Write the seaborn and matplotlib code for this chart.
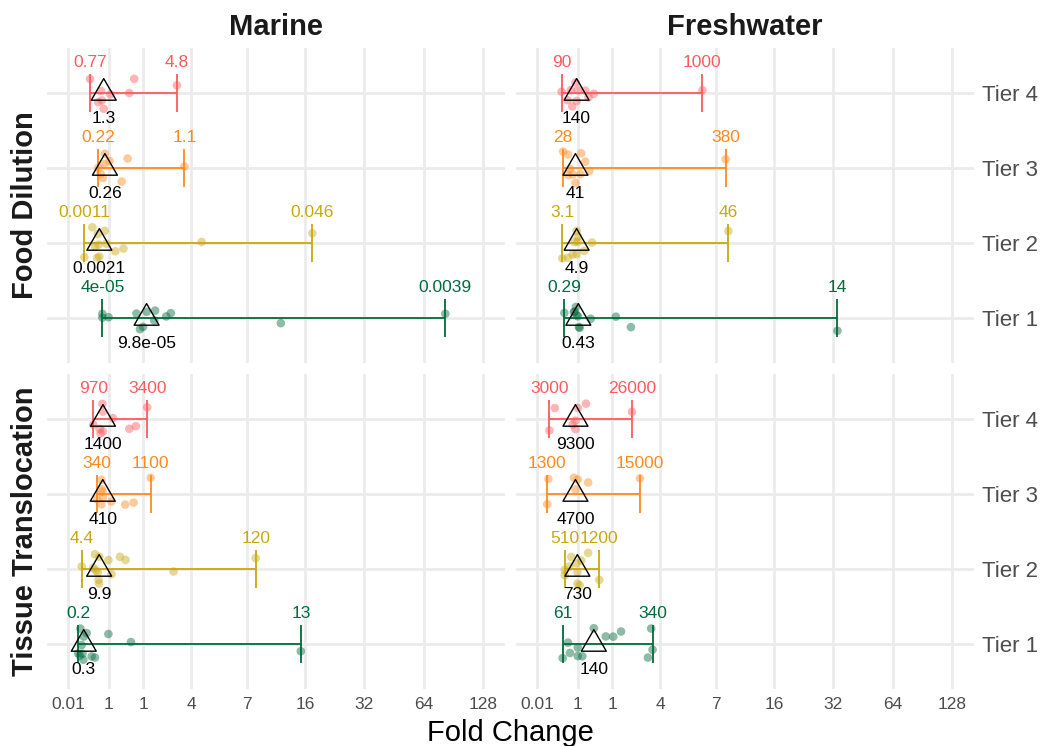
import numpy as np
import pandas as pd
import matplotlib
matplotlib.use("Agg")
import matplotlib.pyplot as plt
from matplotlib.path import Path
import seaborn as sns

sns.set_style("white")
plt.rcParams["font.family"] = ["Liberation Sans", "DejaVu Sans"]

# ---------------- data ----------------
tiers = ["Tier 4", "Tier 3", "Tier 2", "Tier 1"]
tier_colors = ["#FF5A5F", "#FF8A1E", "#C9A80E", "#006B3C"]

x_breaks = [0.01, 1, 2, 4, 8, 16, 32, 64, 128]
x_tick_labels = ["0.01", "1", "1", "4", "7", "16", "32", "64", "128"]

habitats = ["Marine", "Freshwater"]
endpoints = ["Food Dilution", "Tissue Translocation"]

# fold change of every point (Tier 4 .. Tier 1)
mar_food_t4 = [0.53, 0.73, 0.80, 0.82, 0.87, 1.04, 1.57, 1.72, 3.31]
mar_food_t3 = [0.73, 0.79, 0.85, 0.88, 0.90, 1.02, 1.35, 1.52, 3.66]
mar_food_t2 = [0.393, 0.585, 0.65, 0.705, 0.72, 0.74, 0.76, 0.895, 0.94, 1.175, 1.40, 4.58, 17.4]
mar_food_t1 = [0.835, 0.835, 0.994, 1.79, 1.90, 2.0, 2.12, 2.39, 2.42, 2.85, 3.04, 12.0, 82.6]

fw_food_t4 = [0.592, 0.74, 0.82, 0.86, 0.94, 0.97, 1.0, 1.2, 1.29, 1.44, 6.8]
fw_food_t3 = [0.63, 0.75, 0.75, 0.80, 0.87, 0.94, 1.07, 1.09, 1.20, 1.31, 9.0]
fw_food_t2 = [0.61, 0.75, 0.87, 0.92, 0.97, 0.97, 1.0, 1.0, 1.17, 1.39, 9.3]
fw_food_t1 = [0.66, 0.9, 0.92, 0.95, 0.97, 1.0, 1.03, 1.05, 1.35, 2.13, 2.68, 33.6]

mar_tiss_t4 = [0.61, 0.77, 0.79, 0.835, 0.85, 0.85, 1.11, 1.57, 1.77, 2.14]
mar_tiss_t3 = [0.70, 0.815, 0.815, 0.815, 0.84, 0.85, 1.07, 1.45, 1.70, 2.26]
mar_tiss_t2 = [0.33, 0.61, 0.65, 0.67, 0.72, 0.74, 0.75, 0.76, 0.99, 1.07, 1.30, 1.46, 3.16, 8.9]
mar_tiss_t1 = [0.25, 0.29, 0.30, 0.33, 0.35, 0.37, 0.38, 0.45, 0.57, 0.65, 0.99, 1.62, 15.2]

fw_tiss_t4 = [0.30, 0.43, 0.87, 0.94, 0.94, 1.0, 1.22, 2.72]
fw_tiss_t3 = [0.25, 0.275, 0.90, 0.94, 1.0, 1.28, 3.05]
fw_tiss_t2 = [0.67, 0.67, 0.78, 0.835, 0.97, 0.99, 0.99, 1.05, 1.09, 1.28, 1.60]
fw_tiss_t1 = [0.62, 0.75, 0.80, 1.0, 1.0, 1.12, 1.44, 1.80, 2.04, 2.31, 3.40, 3.55, 3.62]

# (min, median, max) annotations in original units (Tier 4 .. Tier 1)
mar_food_labels = [("0.77", "1.3", "4.8"), ("0.22", "0.26", "1.1"),
                   ("0.0011", "0.0021", "0.046"), ("4e-05", "9.8e-05", "0.0039")]
fw_food_labels = [("90", "140", "1000"), ("28", "41", "380"),
                  ("3.1", "4.9", "46"), ("0.29", "0.43", "14")]
mar_tiss_labels = [("970", "1400", "3400"), ("340", "410", "1100"),
                   ("4.4", "9.9", "120"), ("0.2", "0.3", "13")]
fw_tiss_labels = [("3000", "9300", "26000"), ("1300", "4700", "15000"),
                  ("510", "730", "1200"), ("61", "140", "340")]

panel_points = {
    ("Food Dilution", "Marine"): [mar_food_t4, mar_food_t3, mar_food_t2, mar_food_t1],
    ("Food Dilution", "Freshwater"): [fw_food_t4, fw_food_t3, fw_food_t2, fw_food_t1],
    ("Tissue Translocation", "Marine"): [mar_tiss_t4, mar_tiss_t3, mar_tiss_t2, mar_tiss_t1],
    ("Tissue Translocation", "Freshwater"): [fw_tiss_t4, fw_tiss_t3, fw_tiss_t2, fw_tiss_t1],
}
panel_labels = {
    ("Food Dilution", "Marine"): mar_food_labels,
    ("Food Dilution", "Freshwater"): fw_food_labels,
    ("Tissue Translocation", "Marine"): mar_tiss_labels,
    ("Tissue Translocation", "Freshwater"): fw_tiss_labels,
}

rows = []
for (ep, hab), groups in panel_points.items():
    for tier, vals in zip(tiers, groups):
        for v in vals:
            rows.append({"endpoint": ep, "habitat": hab, "tier": tier, "fc": v})
df = pd.DataFrame(rows)

# ---------------- plot ----------------
np.random.seed(7)
W, H = 1042, 746
fig = plt.figure(figsize=(W / 100, H / 100), dpi=100)
fig.patch.set_facecolor("white")


def rect(l, t, r, b):
    return [l / W, 1 - b / H, (r - l) / W, (b - t) / H]


boxes = {
    ("Food Dilution", "Marine"): rect(47, 48, 505, 363),
    ("Food Dilution", "Freshwater"): rect(516, 48, 974, 363),
    ("Tissue Translocation", "Marine"): rect(47, 374, 505, 689),
    ("Tissue Translocation", "Freshwater"): rect(516, 374, 974, 689),
}


def fwd(x):
    return np.arcsinh(np.asarray(x, dtype=float) / 2) / np.log(2)


def inv(y):
    return 2 * np.sinh(np.asarray(y, dtype=float) * np.log(2))


# open triangle centred on its centroid (like ggplot shape 2)
tri = Path([(-1, -0.5774), (1, -0.5774), (0, 1.1547), (-1, -0.5774)],
           [Path.MOVETO, Path.LINETO, Path.LINETO, Path.CLOSEPOLY])

palette = dict(zip(tiers, tier_colors))
grid_col = "#EBEBEB"

for (ep, hab), box in boxes.items():
    ax = fig.add_axes(box)
    sub = df[(df.endpoint == ep) & (df.habitat == hab)]
    sns.stripplot(data=sub, x="fc", y="tier", hue="tier", order=tiers,
                  hue_order=tiers, palette=palette, jitter=0.22, size=6.2,
                  alpha=0.45, linewidth=0, legend=False, ax=ax, zorder=3)
    ax.set_xscale("function", functions=(fwd, inv))
    labs = panel_labels[(ep, hab)]
    for i, tier in enumerate(tiers):
        vals = np.array(sub[sub.tier == tier].fc)
        lo, hi, med = vals.min(), vals.max(), np.median(vals)
        col = palette[tier]
        ax.hlines(i, lo, hi, color=col, lw=1.3, zorder=4)
        ax.vlines([lo, hi], i - 0.25, i + 0.25, color=col, lw=1.3, zorder=4)
        ax.scatter([med], [i], marker=tri, s=430, facecolors="none",
                   edgecolors="black", linewidths=1.0, zorder=5)
        ax.text(lo, i - 0.41, labs[i][0], color=col, ha="center", va="center",
                fontsize=12.5, zorder=6)
        ax.text(hi, i - 0.41, labs[i][2], color=col, ha="center", va="center",
                fontsize=12.5, zorder=6)
        ax.text(med, i + 0.34, labs[i][1], color="black", ha="center",
                va="center", fontsize=12.5, zorder=6)

    ax.set_xlim(-0.486, 165.9)
    ax.set_ylim(3.6, -0.6)
    ax.set_xticks(x_breaks)
    ax.set_xticklabels(x_tick_labels)
    ax.set_yticks(range(len(tiers)))
    ax.set_yticklabels(tiers)
    ax.minorticks_off()
    ax.set_xlabel("")
    ax.set_ylabel("")
    for s in ax.spines.values():
        s.set_visible(False)
    ax.set_axisbelow(True)
    ax.grid(True, axis="both", which="major", color=grid_col, lw=2.0, zorder=0)
    ax.tick_params(axis="x", length=0, pad=6, labelsize=12.5, labelcolor="#4D4D4D")
    ax.tick_params(axis="y", length=0, pad=6, labelsize=16, labelcolor="#4D4D4D")
    if hab == "Freshwater":
        ax.yaxis.tick_right()
    else:
        ax.tick_params(axis="y", labelleft=False, labelright=False)
    if ep == "Food Dilution":
        ax.tick_params(axis="x", labelbottom=False)

fig.text(276 / W, 1 - 27 / H, "Marine", ha="center", va="center",
         fontsize=21, fontweight="bold", color="#1A1A1A")
fig.text(745 / W, 1 - 27 / H, "Freshwater", ha="center", va="center",
         fontsize=21, fontweight="bold", color="#1A1A1A")
fig.text(25 / W, 1 - 205.5 / H, "Food Dilution", ha="center", va="center",
         rotation=90, fontsize=21, fontweight="bold", color="#1A1A1A")
fig.text(25 / W, 1 - 531.5 / H, "Tissue Translocation", ha="center",
         va="center", rotation=90, fontsize=21, fontweight="bold", color="#1A1A1A")
fig.text(510.5 / W, 1 - 733 / H, "Fold Change", ha="center", va="center",
         fontsize=21, color="black")

fig.savefig("out.png", dpi=100, facecolor="white")
